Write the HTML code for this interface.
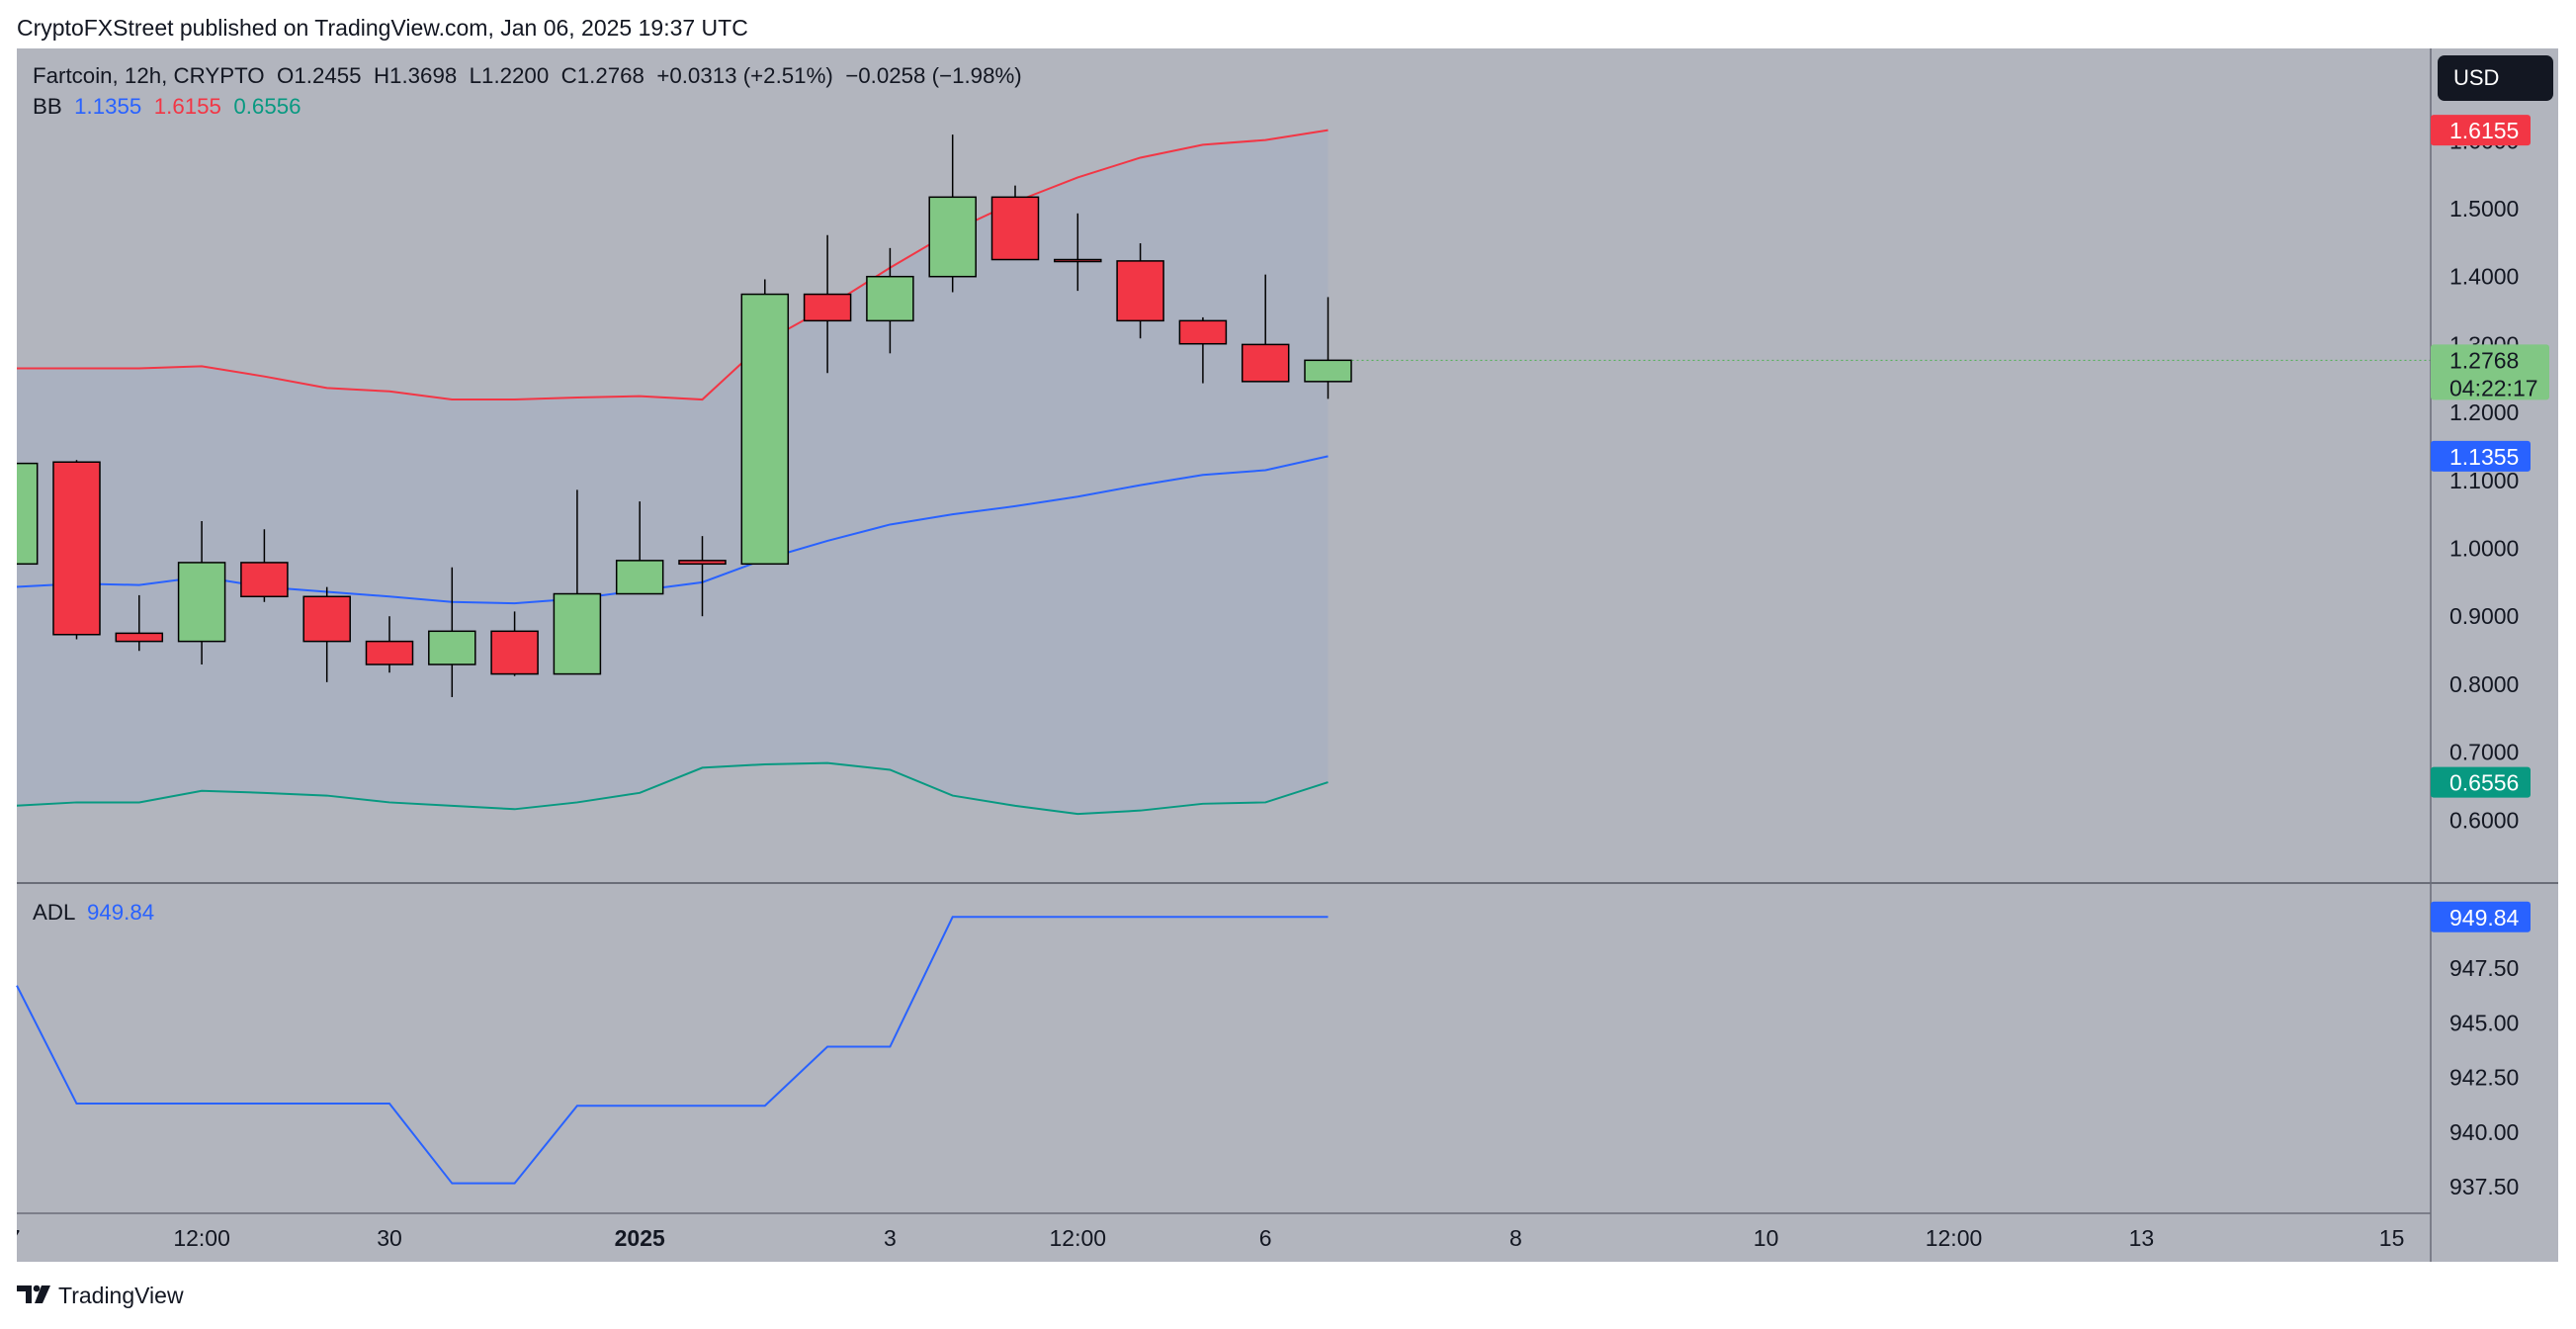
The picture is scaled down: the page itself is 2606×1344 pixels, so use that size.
<!DOCTYPE html>
<html><head><meta charset="utf-8"><style>
html,body{margin:0;padding:0;background:#fff;}
body{width:2606px;height:1339px;overflow:hidden;font-family:"Liberation Sans",sans-serif;}
svg text{font-family:"Liberation Sans",sans-serif;}
</style></head><body>
<svg id="chart" width="2606" height="1339" viewBox="0 0 2606 1339" xmlns="http://www.w3.org/2000/svg">
<rect x="0" y="0" width="2606" height="1339" fill="#ffffff"/>
<text x="17" y="36" font-size="23" fill="#131722">CryptoFXStreet published on TradingView.com, Jan 06, 2025 19:37 UTC</text>
<rect x="17" y="49" width="2571" height="1227" fill="#b2b5be"/>
<g id="bands"></g>
<g id="grid"></g>
<g id="candles"></g>
<g id="adl"></g>
<line x1="2459" y1="49" x2="2459" y2="1276" stroke="#6a6d78" stroke-width="1.5"/>
<line x1="17" y1="893" x2="2588" y2="893" stroke="#6a6d78" stroke-width="2"/>
<line x1="17" y1="1227" x2="2459" y2="1227" stroke="#6a6d78" stroke-width="1.5"/>
<g id="axes"></g>
<rect x="2466" y="56" width="117" height="46" rx="7" fill="#131722"/>
<text x="2482" y="86" font-size="22" fill="#ffffff">USD</text>
<text x="33" y="84" font-size="22.3" fill="#131722" xml:space="preserve">Fartcoin, 12h, CRYPTO  O1.2455  H1.3698  L1.2200  C1.2768  +0.0313 (+2.51%)  −0.0258 (−1.98%)</text>
<text x="33" y="115" font-size="22.3" xml:space="preserve"><tspan fill="#131722">BB  </tspan><tspan fill="#2962ff">1.1355  </tspan><tspan fill="#f23645">1.6155  </tspan><tspan fill="#089981">0.6556</tspan></text>
<text x="33" y="930" font-size="22.3" xml:space="preserve"><tspan fill="#131722">ADL  </tspan><tspan fill="#2962ff">949.84</tspan></text>
<g>
<path d="M17 1300h15v18h-6v-12h-9z" fill="#131722"/><circle cx="37" cy="1303" r="3.3" fill="#131722"/><path d="M42 1300h9l-8 18h-8z" fill="#131722"/>
<text x="59" y="1318" font-size="23" fill="#131722">TradingView</text>
</g>
</svg>
<script>
const opens  = [0.977,1.127,0.875,0.863,0.979,0.929,0.863,0.829,0.878,0.815,0.933,0.982,0.977,1.374,1.335,1.400,1.517,1.425,1.423,1.335,1.300,1.2455];
const highs  = [1.140,1.130,0.931,1.040,1.028,0.943,0.900,0.972,0.907,1.086,1.069,1.018,1.396,1.461,1.442,1.609,1.534,1.493,1.449,1.340,1.403,1.3698];
const lows   = [0.970,0.866,0.849,0.829,0.921,0.803,0.817,0.781,0.812,0.815,0.933,0.900,0.977,1.258,1.287,1.377,1.425,1.379,1.309,1.243,1.2455,1.2200];
const closes = [1.125,0.873,0.863,0.979,0.929,0.863,0.829,0.878,0.815,0.933,0.982,0.977,1.374,1.335,1.400,1.517,1.425,1.423,1.335,1.301,1.2455,1.2768];
const bbUpper  = [1.265,1.265,1.265,1.268,1.253,1.236,1.231,1.219,1.219,1.222,1.224,1.219,1.304,1.355,1.413,1.467,1.510,1.546,1.575,1.594,1.601,1.6155];
const bbMiddle = [0.943,0.948,0.946,0.958,0.943,0.936,0.929,0.921,0.919,0.926,0.938,0.950,0.984,1.011,1.035,1.050,1.062,1.076,1.093,1.108,1.115,1.1355];
const bbLower  = [0.621,0.626,0.626,0.643,0.640,0.636,0.626,0.621,0.616,0.626,0.640,0.677,0.682,0.684,0.674,0.636,0.621,0.609,0.614,0.624,0.626,0.6556];
const adlValues = [946.7,941.3,941.3,941.3,941.3,941.3,941.3,937.65,937.65,941.2,941.2,941.2,941.2,943.9,943.9,949.84,949.84,949.84,949.84,949.84,949.84,949.84];
const priceTicks = ["0.6000","0.7000","0.8000","0.9000","1.0000","1.1000","1.2000","1.3000","1.4000","1.5000","1.6000"];
const adlTicks = ["937.50","940.00","942.50","945.00","947.50"];
const timeLabels = ["7","12:00","30","2025","3","12:00","6","8","10","12:00","13","15"];
const timeIndex  = [0,3,6,10,14,17,20,24,28,31,34,38];

const NS="http://www.w3.org/2000/svg";
const X=i=>14.2+63.3*i;
const Y=p=>211+(1.5-p)*687;
const YA=v=>979-(v-947.5)*22.1;
function mk(tag,attrs,parent){const e=document.createElementNS(NS,tag);for(const k in attrs)e.setAttribute(k,attrs[k]);document.getElementById(parent).appendChild(e);return e;}

let up=bbUpper.map((v,i)=>X(i)+","+Y(v)).join(" ");
let lo=bbLower.map((v,i)=>X(i)+","+Y(v)).reverse().join(" ");
const fill=mk("polygon",{points:up+" "+lo,fill:"#a9b0c0","fill-opacity":"0.9"},"bands");


const series=[[bbUpper,"#f23645","bb-upper-line"],[bbMiddle,"#2962ff","bb-middle-line"],[bbLower,"#089981","bb-lower-line"]];
series.forEach(s=>{
  const l=mk("polyline",{points:s[0].map((v,i)=>X(i)+","+Y(v)).join(" "),fill:"none",stroke:s[1],"stroke-width":"2"},"bands");
  
  
});
opens.forEach((o,i)=>{
  const c=closes[i],up=c>=o,x=X(i);
  const g=mk("g",{},"candles");
  
  
  const w=document.createElementNS(NS,"line");
  w.setAttribute("x1",x);w.setAttribute("x2",x);w.setAttribute("y1",Y(highs[i]));w.setAttribute("y2",Y(lows[i]));w.setAttribute("stroke","#000");w.setAttribute("stroke-width","1.5");
  g.appendChild(w);
  const r=document.createElementNS(NS,"rect");
  const top=Y(Math.max(o,c)),h=Math.max(Math.abs(Y(o)-Y(c)),2);
  r.setAttribute("x",x-23.5);r.setAttribute("y",top);r.setAttribute("width",47);r.setAttribute("height",h);
  r.setAttribute("fill",up?"#81c784":"#f23645");r.setAttribute("stroke","#000");r.setAttribute("stroke-width","1.5");
  g.appendChild(r);
});
mk("rect",{x:0,y:49,width:17,height:1230,fill:"#fff"},"candles");
const cp=mk("line",{x1:X(21)+24,x2:2459,y1:Y(closes[21]),y2:Y(closes[21]),stroke:"#4caf50","stroke-dasharray":"2 3","stroke-width":"1"},"candles");


const al=mk("polyline",{points:adlValues.map((v,i)=>Math.max(X(i),17)+","+YA(v)).join(" "),fill:"none",stroke:"#2962ff","stroke-width":"2"},"adl");


priceTicks.forEach(t=>{
  const e=mk("text",{x:2478,y:Y(parseFloat(t))+8,"font-size":"23",fill:"#131722"},"axes");
  e.textContent=t;
  
  
});
adlTicks.forEach(t=>{
  const e=mk("text",{x:2478,y:YA(parseFloat(t))+8,"font-size":"23",fill:"#131722"},"axes");
  e.textContent=t;
  
  
});
timeLabels.forEach((t,k)=>{
  const e=mk("text",{x:X(timeIndex[k]),y:1260,"font-size":"23",fill:"#131722","text-anchor":"middle","font-weight":t==="2025"?"bold":"normal"},"axes");
  e.textContent=t;
  
  
});
mk("rect",{x:0,y:1228,width:17,height:48,fill:"#fff"},"axes");
function badge(y,h,color,lines,txtColor,name){
  const r=mk("rect",{x:2459,y:y-h/2,width:lines.length>1?120:101,height:h,rx:3,fill:color},"axes");
  
  
  lines.forEach((s,j)=>{const t=mk("text",{x:2478,y:y-h/2+24+j*28,"font-size":"23",fill:txtColor},"axes");t.textContent=s;});
}
badge(Y(bbUpper[21]),31,"#f23645",["1.6155"],"#fff","bb-upper-badge");
badge(Y(closes[21])+12,56,"#81c784",["1.2768","04:22:17"],"#131722","last-price-badge");
badge(Y(bbMiddle[21]),31,"#2962ff",["1.1355"],"#fff","bb-middle-badge");
badge(Y(bbLower[21]),31,"#089981",["0.6556"],"#fff","bb-lower-badge");
badge(YA(adlValues[21]),31,"#2962ff",["949.84"],"#fff","adl-badge");
</script>
</body></html>
